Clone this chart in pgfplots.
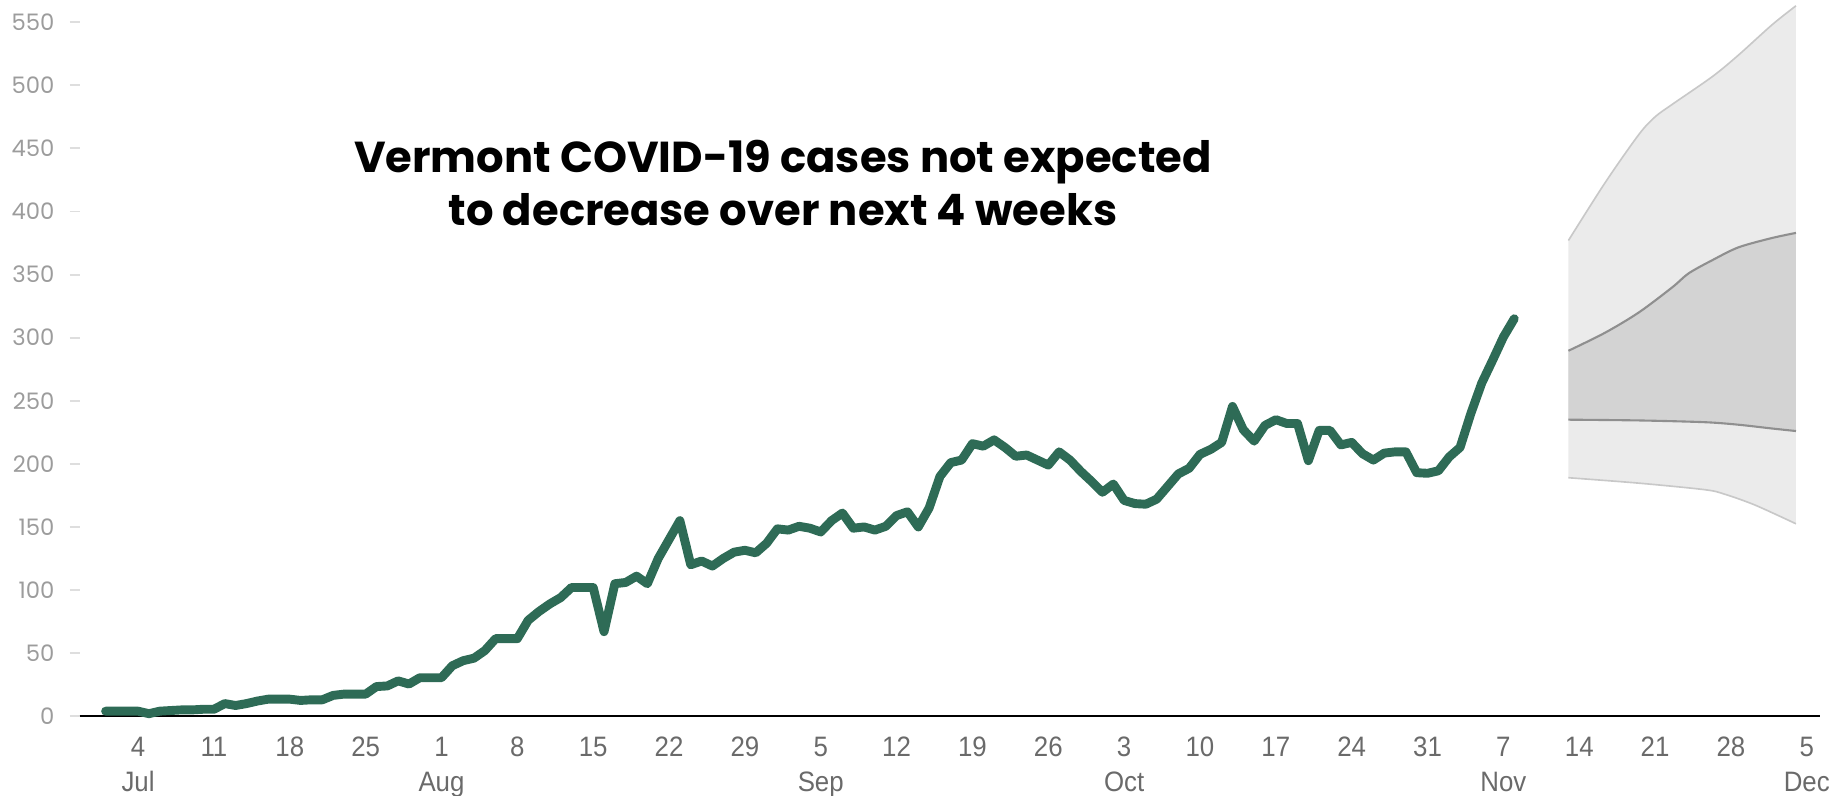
\documentclass[border=0pt]{standalone}
\usepackage{pgfplots}
\pgfplotsset{compat=1.18}
\usepackage{pgfplotstable}
\usepgfplotslibrary{fillbetween}
\usepackage{fontspec}
\setmainfont{Liberation Sans}
\newfontfamily\titlefont{Poppins}
\newfontfamily\yfont{Poppins}
\newfontfamily\xfont{Liberation Sans}[FakeStretch=0.92]

\definecolor{casegreen}{HTML}{2E6B56}
\definecolor{bandlight}{HTML}{EBEBEB}
\definecolor{bandlightline}{HTML}{C8C8C8}
\definecolor{banddark}{HTML}{D3D3D3}
\definecolor{banddarkline}{HTML}{8F8F8F}
\definecolor{ylab}{HTML}{9C9C9C}
\definecolor{xlab}{HTML}{6A6A6A}

% day 0 = Jul 4
\pgfplotstableread{
day cases
-3 4
-2 4
-1 4
0 4
1 2
2 4
3 4.5
4 5
5 5
6 5.5
7 5.5
8 10
9 8.5
10 10
11 12
12 13.5
13 13.5
14 13.5
15 12.5
16 13
17 13
18 16.5
19 17.5
20 17.5
21 17.5
22 23.5
23 24
24 28
25 25.5
26 30.5
27 30.5
28 30.5
29 40
30 44
31 46
32 52
33 61.5
34 61.5
35 61.5
36 76
37 83
38 89
39 94
40 102
41 102
42 102
43 67
44 105
45 106
46 111
47 105
48 125
49 140
50 155
51 120
52 123
53 119
54 125
55 130
56 131.5
57 129.5
58 137
59 148.5
60 147.5
61 150.5
62 149
63 146
64 155
65 161
66 149
67 150
68 147.5
69 150.5
70 159
71 162
72 150
73 165
74 190
75 201
76 203
77 216
78 214
79 219
80 213
81 206
82 207
83 203
84 199
85 209.5
86 203
87 194
88 186
89 177.5
90 184
91 171
92 168.5
93 168
94 172
95 182
96 192
97 196.5
98 207.5
99 211.5
100 217
101 245.5
102 227
103 218
104 230.5
105 235
106 232
107 232
108 202.5
109 226.5
110 226.5
111 215
112 217
113 208
114 203
115 208.5
116 209.5
117 209.5
118 193
119 192.5
120 194.5
121 205.5
122 213
123 240
124 264
125 282
126 300.5
127 315
}\vtcases

\pgfplotstableread{
day val
132 377
135.4 423
138.5 461
140 475
141.6 485
145.3 507
147.7 524
150.8 548
153 563
}\outerup

\pgfplotstableread{
day val
132 189
138.5 184.7
144.6 179.5
146.4 176
149.2 167.4
153 152.5
}\outerlo

\pgfplotstableread{
day val
132 289.6
135.4 304
138.5 320
141.6 340
143.1 351
145.3 361.5
147.7 371.6
150.8 379
153 383
}\innerup

\pgfplotstableread{
day val
132 235
138.5 234.4
144.6 233
147.7 231
150.8 228
153 226
}\innerlo

\begin{document}
\begin{tikzpicture}
\begin{axis}[
    at={(34pt,34pt)}, anchor=south west,
    scale only axis, width=743.5pt, height=304.6pt,
    xmin=-5.4, xmax=155.2, ymin=0, ymax=565,
    axis x line*=bottom, axis y line*=left,
    x axis line style={-, black, line width=1pt},
    y axis line style={draw=none},
    ytick={0,50,...,550},
    xtick={0,7,...,154},
    xticklabels={{4\\Jul},11,18,25,{1\\Aug},8,15,22,29,{5\\Sep},12,19,26,{3\\Oct},10,17,24,31,{7\\Nov},14,21,28,{5\\Dec}},
    xticklabel style={align=center, font=\xfont\fontsize{12}{15}\selectfont, text=xlab, yshift=-1pt},
    yticklabel style={font=\yfont\fontsize{9.7}{11}\selectfont, text=ylab, xshift=-3pt},
    /pgf/number format/assume math mode=true,
    tick align=outside,
    major tick length=4.25pt,
    xtick style={draw=none},
    ytick style={draw=black!13, line width=0.8pt},
    clip=false,
]
% forecast bands: boundaries first, then fills, then the lines on top
\addplot[name path=ou, smooth, draw=none] table[x=day, y=val] {\outerup};
\addplot[name path=ol, smooth, draw=none] table[x=day, y=val] {\outerlo};
\addplot[name path=iu, smooth, draw=none] table[x=day, y=val] {\innerup};
\addplot[name path=il, smooth, draw=none] table[x=day, y=val] {\innerlo};
\addplot[fill=bandlight, draw=none] fill between[of=ou and ol];
\addplot[fill=banddark, draw=none] fill between[of=iu and il];
\addplot[smooth, draw=bandlightline, line width=0.7pt] table[x=day, y=val] {\outerup};
\addplot[smooth, draw=bandlightline, line width=0.7pt] table[x=day, y=val] {\outerlo};
\addplot[smooth, draw=banddarkline, line width=0.9pt] table[x=day, y=val] {\innerup};
\addplot[smooth, draw=banddarkline, line width=0.9pt] table[x=day, y=val] {\innerlo};
% reported cases
\addplot[casegreen, line width=3.8pt, line join=round, line cap=round] table[x=day, y=cases] {\vtcases};
\end{axis}
\node[font=\titlefont\bfseries\fontsize{18.5}{22.5}\selectfont, anchor=base] at (334.5pt,266.5pt) {Vermont COVID-19 cases not expected};
\node[font=\titlefont\bfseries\fontsize{18.5}{22.5}\selectfont, anchor=base] at (334.5pt,243.5pt) {to decrease over next 4 weeks};
\pgfresetboundingbox
\path (0,0) rectangle (784pt,340pt);
\end{tikzpicture}
\end{document}
